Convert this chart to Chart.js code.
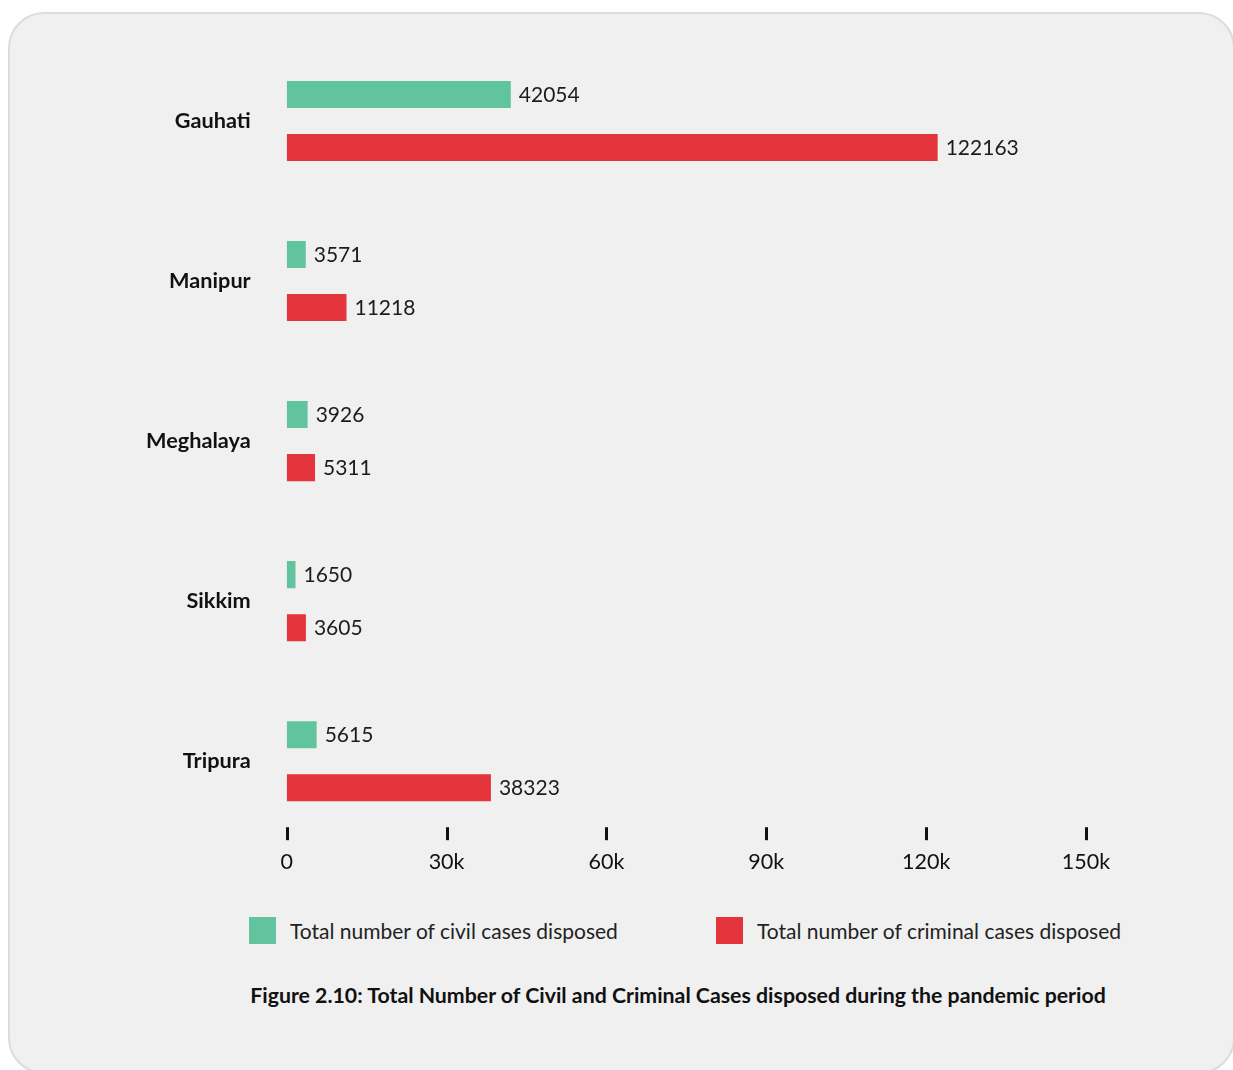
<!DOCTYPE html>
<html lang="en">
<head>
    <meta charset="utf-8">
    <title>Civil and Criminal Cases disposed</title>
<script src="https://cdn.jsdelivr.net/npm/chart.js@4.4.0/dist/chart.umd.min.js"></script>
<style>
  body { margin: 0; background: #fff; width: 1233px; height: 1070px; overflow: hidden; font-family: Lato, sans-serif; }
  #panel { position: absolute; left: 8px; top: 12px; width: 1227px; height: 1062px; box-sizing: border-box;
           background: #f0f0f0; border: 2px solid #dcdcdc; border-radius: 36px; }
  #wrap { position: absolute; left: 0; top: -8px; width: 1233px; height: 900px; }
  #legend { position: absolute; left: 0; top: 917px; width: 1370px; display: flex; justify-content: center; gap: 98px; }
  .item { display: flex; align-items: center; font-size: 21px; color: #222; height: 27px; }
  .box { width: 27px; height: 27px; margin-right: 14px; }
  #caption { position: absolute; left: 0; top: 982px; width: 1356px; text-align: center; font-weight: bold; font-size: 21.3px; color: #111; }
</style>
</head>

<body>
<div id="panel"></div>
<div id="wrap"><canvas id="mycanvas" width="1233" height="900"></canvas></div>
<div id="legend"></div>
<div id="caption">Figure 2.10: Total Number of Civil and Criminal Cases disposed during the pandemic period</div>

<script>
var courts = ['Gauhati', 'Manipur', 'Meghalaya', 'Sikkim', 'Tripura'];
var civil = [42054, 3571, 3926, 1650, 5615];
var criminal = [122163, 11218, 5311, 3605, 38323];
var seriesNames = ['Total number of civil cases disposed', 'Total number of criminal cases disposed'];
var seriesColors = ['#62c39f', '#e3353b'];

// legend
var legend = document.getElementById('legend');
for (var i = 0; i < seriesNames.length; i++) {
  legend.innerHTML += '<div class="item"><div class="box" style="background:' + seriesColors[i] + '"></div>' + seriesNames[i] + '</div>';
}

// value labels at bar ends
var valueLabels = {
  id: 'valueLabels',
  afterDatasetsDraw: function(chart) {
    var ctx = chart.ctx;
    ctx.save();
    ctx.font = '21px Lato';
    ctx.fillStyle = '#1c1c1c';
    ctx.textBaseline = 'middle';
    ctx.textAlign = 'left';
    chart.data.datasets.forEach(function(ds, di) {
      chart.getDatasetMeta(di).data.forEach(function(bar, j) {
        ctx.fillText(ds.data[j], bar.x + 8, bar.y + 1);
      });
    });
    ctx.restore();
  }
};

// short tick marks above the x labels
var tickMarks = {
  id: 'tickMarks',
  afterDraw: function(chart) {
    var ctx = chart.ctx, sx = chart.scales.x, b = chart.chartArea.bottom;
    ctx.save();
    ctx.strokeStyle = '#111';
    ctx.lineWidth = 3;
    sx.ticks.forEach(function(t) {
      var x = Math.round(sx.getPixelForValue(t.value)) + 0.5;
      ctx.beginPath();
      ctx.moveTo(x, b - 14);
      ctx.lineTo(x, b - 1);
      ctx.stroke();
    });
    ctx.restore();
  }
};

Chart.defaults.font.family = 'Lato, sans-serif';

function draw() {
  new Chart(document.getElementById('mycanvas'), {
    type: 'bar',
    data: {
      labels: courts,
      datasets: [
        { label: seriesNames[0], data: civil, backgroundColor: seriesColors[0] },
        { label: seriesNames[1], data: criminal, backgroundColor: seriesColors[1] }
      ]
    },
    options: {
      indexAxis: 'y',
      responsive: false,
      animation: false,
      categoryPercentage: 0.6625,
      barPercentage: 0.51,
      layout: { padding: { left: 110, right: 147, top: 26, bottom: 9 } },
      plugins: { legend: { display: false }, tooltip: { enabled: false } },
      scales: {
        x: {
          min: 0,
          max: 150000,
          grid: { display: false, drawTicks: false },
          border: { display: false },
          ticks: {
            stepSize: 30000,
            padding: 8,
            color: '#111',
            font: { size: 21.5 },
            callback: function(v) { return v === 0 ? '0' : (v / 1000) + 'k'; }
          }
        },
        y: {
          grid: { display: false, drawTicks: false },
          border: { display: false },
          ticks: { padding: 36, color: '#111', font: { size: 21.7, weight: 'bold' } }
        }
      }
    },
    plugins: [valueLabels, tickMarks]
  });
}

Promise.all([
  document.fonts.load('bold 22px Lato'),
  document.fonts.load('22px Lato')
]).then(draw, draw);
</script>
</body>
</html>
